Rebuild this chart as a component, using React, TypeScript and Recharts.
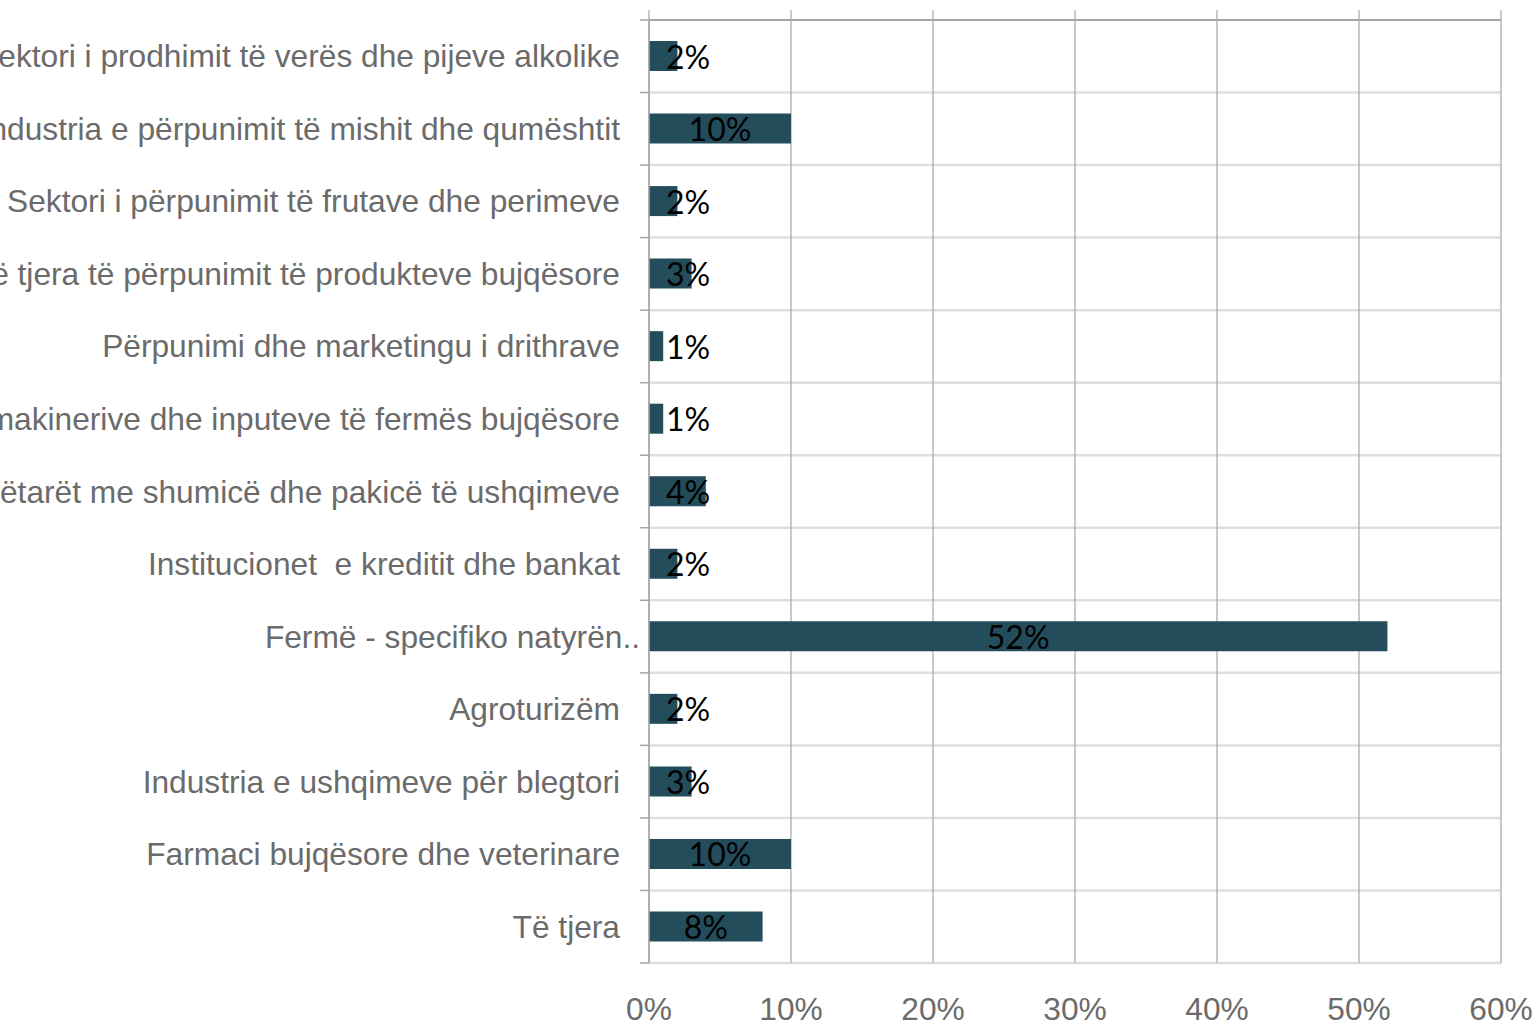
import React from "react";
import { BarChart, Bar, XAxis, YAxis, CartesianGrid, LabelList } from "recharts";

const categories = [
  "Sektori i prodhimit të verës dhe pijeve alkolike",
  "Industria e përpunimit të mishit dhe qumështit",
  "Sektori i përpunimit të frutave dhe perimeve",
  "Degë të tjera të përpunimit të produkteve bujqësore",
  "Përpunimi dhe marketingu i drithrave",
  "Furnizuesit e makinerive dhe inputeve të fermës bujqësore",
  "Tregëtarët me shumicë dhe pakicë të ushqimeve",
  "Institucionet  e kreditit dhe bankat",
  "Fermë - specifiko natyrën..",
  "Agroturizëm",
  "Industria e ushqimeve për blegtori",
  "Farmaci bujqësore dhe veterinare",
  "Të tjera",
];
const values = [2, 10, 2, 3, 1, 1, 4, 2, 52, 2, 3, 10, 8];
const xTicks = [0, 10, 20, 30, 40, 50, 60];

const data = categories.map((name, i) => ({ name, value: values[i] }));

const AXIS_FONT = "'Liberation Sans', Arial, sans-serif";
const LABEL_FONT = "Lato, 'Open Sans', sans-serif";
const GRAY_TEXT = "#6b6b6b";
const GRID_DARK = "#a6a6a6";
const GRID_LIGHT = "#dedede";

const CategoryTick = (props: any) => {
  const { y, payload } = props;
  const isLong = String(payload.value).endsWith("..");
  return (
    <text
      x={isLong ? 640 : 620}
      y={y}
      textAnchor="end"
      dominantBaseline="central"
      fill={GRAY_TEXT}
      fontSize={31.7}
      fontFamily={AXIS_FONT}
      style={{ whiteSpace: "pre" }}
    >
      {payload.value}
    </text>
  );
};

const ValueLabel = (props: any) => {
  const { x, y, width, height, value } = props;
  const cx = Math.max(x + width / 2, x + 39);
  return (
    <text
      x={cx}
      y={y + height / 2}
      textAnchor="middle"
      dominantBaseline="central"
      fill="#000"
      fontSize={32}
      fontFamily={LABEL_FONT}
    >
      {`${value}%`}
    </text>
  );
};

const HLine = (props: any) => {
  const { x1, x2, y1, index } = props;
  const isTop = index === 0;
  return (
    <g key={`h-${index}`}>
      <line x1={x1} x2={x2} y1={y1} y2={y1} stroke={isTop ? GRID_DARK : GRID_LIGHT} strokeWidth={isTop ? 2 : 2.5} />
      <line x1={x1 - 9} x2={x1} y1={y1} y2={y1} stroke={GRID_DARK} strokeWidth={1.5} />
    </g>
  );
};

const VLine = (props: any) => {
  const { x1, y1, y2, index } = props;
  return (
    <line key={`v-${index}`} x1={x1} x2={x1} y1={y1 - 10} y2={y2} stroke={GRID_DARK} strokeWidth={1.2} />
  );
};

export default function App() {
  return (
    <div style={{ position: "absolute", left: 0, top: 0, background: "#fff" }}>
      <BarChart
        width={1537}
        height={1026}
        data={data}
        layout="vertical"
        margin={{ top: 20, right: 36, bottom: 0, left: 0 }}
        barCategoryGap={0}
      >
        <CartesianGrid
          horizontal={HLine}
          vertical={VLine}
          horizontalCoordinatesGenerator={({ offset }: any) =>
            Array.from({ length: categories.length + 1 }, (_, i) => offset.top + (i * offset.height) / categories.length)
          }
        />
        <XAxis
          type="number"
          domain={[0, 60]}
          ticks={xTicks}
          tickFormatter={(v: number) => `${v}%`}
          axisLine={false}
          tickLine={false}
          height={63}
          tickMargin={28}
          interval={0}
          tick={{ fill: GRAY_TEXT, fontSize: 31.7, fontFamily: AXIS_FONT }}
        />
        <YAxis
          type="category"
          dataKey="name"
          width={649}
          axisLine={{ stroke: GRID_DARK, strokeWidth: 1.5 }}
          tickLine={false}
          tick={<CategoryTick />}
          interval={0}
        />
        <Bar dataKey="value" fill="#244d5b" barSize={30} isAnimationActive={false}>
          <LabelList dataKey="value" content={<ValueLabel />} />
        </Bar>
      </BarChart>
    </div>
  );
}
